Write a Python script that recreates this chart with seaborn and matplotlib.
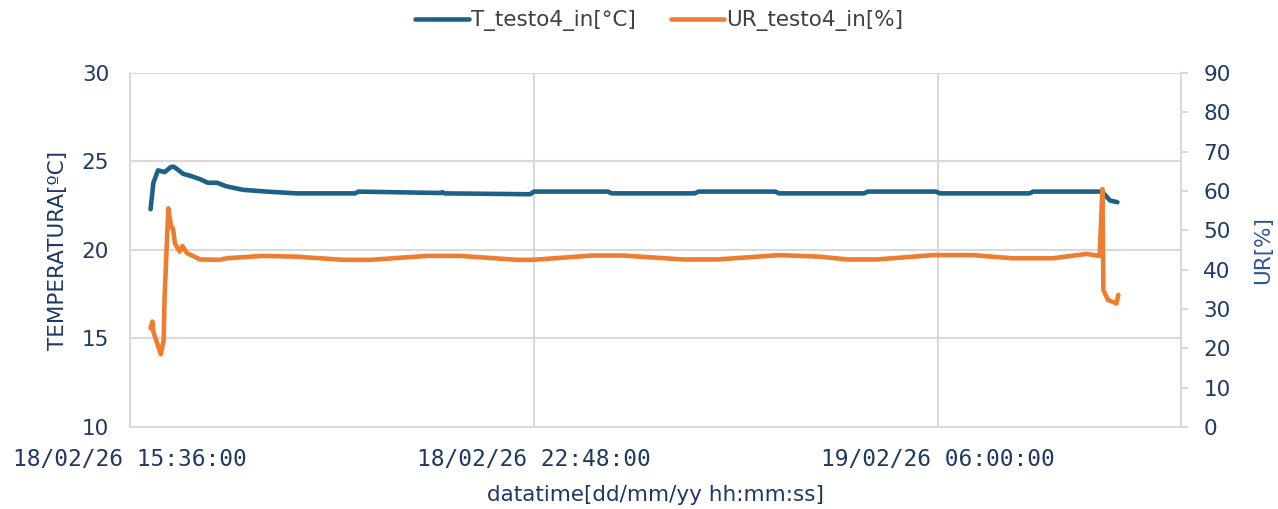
import matplotlib
matplotlib.use("Agg")
import matplotlib.pyplot as plt
import matplotlib.dates as mdates
import pandas as pd
import seaborn as sns

# Temperature series (testo sensor 4, indoor)
t_times = [
    "2026-02-18 15:58", "2026-02-18 16:01", "2026-02-18 16:06", "2026-02-18 16:13",
    "2026-02-18 16:20", "2026-02-18 16:23", "2026-02-18 16:33", "2026-02-18 16:40",
    "2026-02-18 16:51", "2026-02-18 16:59", "2026-02-18 17:09", "2026-02-18 17:19",
    "2026-02-18 17:37", "2026-02-18 18:02", "2026-02-18 18:34", "2026-02-18 18:59",
    "2026-02-18 19:37", "2026-02-18 19:40", "2026-02-18 21:08", "2026-02-18 21:10",
    "2026-02-18 21:12", "2026-02-18 22:44", "2026-02-18 22:48", "2026-02-19 00:07",
    "2026-02-19 00:11", "2026-02-19 01:40", "2026-02-19 01:44", "2026-02-19 03:06",
    "2026-02-19 03:10", "2026-02-19 04:41", "2026-02-19 04:45", "2026-02-19 05:58",
    "2026-02-19 06:02", "2026-02-19 07:38", "2026-02-19 07:42", "2026-02-19 08:55",
    "2026-02-19 08:59", "2026-02-19 09:04", "2026-02-19 09:12",
]
t_values = [
    22.3, 23.8, 24.5, 24.4,
    24.7, 24.7, 24.3, 24.2,
    24.0, 23.8, 23.8, 23.6,
    23.4, 23.3, 23.2, 23.2,
    23.2, 23.3, 23.22, 23.27,
    23.2, 23.15, 23.3, 23.3,
    23.2, 23.2, 23.3, 23.3,
    23.2, 23.2, 23.3, 23.3,
    23.2, 23.2, 23.3, 23.3,
    23.1, 22.8, 22.7,
]

# Relative humidity series (testo sensor 4, indoor)
ur_times = [
    "2026-02-18 15:58", "2026-02-18 16:00", "2026-02-18 16:01", "2026-02-18 16:09",
    "2026-02-18 16:12", "2026-02-18 16:13", "2026-02-18 16:17", "2026-02-18 16:20",
    "2026-02-18 16:22", "2026-02-18 16:24", "2026-02-18 16:29", "2026-02-18 16:32",
    "2026-02-18 16:37", "2026-02-18 16:51", "2026-02-18 17:12", "2026-02-18 17:19",
    "2026-02-18 17:58", "2026-02-18 18:34", "2026-02-18 18:59", "2026-02-18 19:24",
    "2026-02-18 19:53", "2026-02-18 20:54", "2026-02-18 21:29", "2026-02-18 22:30",
    "2026-02-18 22:47", "2026-02-18 23:51", "2026-02-19 00:23", "2026-02-19 01:27",
    "2026-02-19 02:04", "2026-02-19 03:11", "2026-02-19 03:54", "2026-02-19 04:23",
    "2026-02-19 04:55", "2026-02-19 05:55", "2026-02-19 06:37", "2026-02-19 07:20",
    "2026-02-19 08:03", "2026-02-19 08:39", "2026-02-19 08:53", "2026-02-19 08:56",
    "2026-02-19 08:57", "2026-02-19 09:02", "2026-02-19 09:11", "2026-02-19 09:13",
]
ur_values = [
    25.1, 26.8, 24.2, 18.5,
    22.1, 33.1, 55.6, 50.9,
    50.5, 46.7, 44.6, 46.0,
    44.2, 42.6, 42.5, 42.9,
    43.5, 43.3, 42.9, 42.5,
    42.5, 43.5, 43.5, 42.5,
    42.5, 43.6, 43.6, 42.6,
    42.6, 43.7, 43.3, 42.6,
    42.6, 43.7, 43.7, 42.9,
    42.9, 44.0, 43.5, 60.5,
    34.8, 32.3, 31.4, 33.6,
]

x_ticks = ["2026-02-18 15:36", "2026-02-18 22:48", "2026-02-19 06:00"]
x_limits = ["2026-02-18 15:36", "2026-02-19 10:20"]
t_ticks = [10, 15, 20, 25, 30]
ur_ticks = [0, 10, 20, 30, 40, 50, 60, 70, 80, 90]

label_t = "T_testo4_in[°C]"
label_ur = "UR_testo4_in[%]"

t_df = pd.DataFrame({"time": pd.to_datetime(t_times), "value": t_values})
ur_df = pd.DataFrame({"time": pd.to_datetime(ur_times), "value": ur_values})

sns.set_style("white")
plt.rcParams["font.family"] = ["DejaVu Sans"]

NAVY = "#1F3864"
GRID = "#D9D9D9"
C_T = "#1D6286"
C_UR = "#ED7D31"

fig = plt.figure(figsize=(12.78, 5.09), dpi=100)
ax = fig.add_axes([130 / 1278, 1 - 427 / 509, (1181 - 130) / 1278, (427 - 73) / 509])
ax2 = ax.twinx()

sns.lineplot(data=t_df, x="time", y="value", ax=ax, color=C_T, linewidth=3.3,
             label=label_t, legend=False)
sns.lineplot(data=ur_df, x="time", y="value", ax=ax2, color=C_UR, linewidth=3.3,
             label=label_ur, legend=False)

ax.set_xlim(pd.to_datetime(x_limits))
ax.set_ylim(t_ticks[0], t_ticks[-1])
ax2.set_ylim(ur_ticks[0], ur_ticks[-1])

ax.set_xticks(pd.to_datetime(x_ticks))
ax.xaxis.set_major_formatter(mdates.DateFormatter("%d/%m/%y %H:%M:%S"))
ax.set_yticks(t_ticks)
ax2.set_yticks(ur_ticks)

ax.grid(True, color=GRID, linewidth=1.5)
ax.set_axisbelow(True)
ax2.grid(False)

for a in (ax, ax2):
    a.spines["top"].set_visible(False)
ax.spines["right"].set_visible(False)
ax.spines["left"].set_color(GRID)
ax.spines["left"].set_linewidth(1.5)
ax.spines["bottom"].set_color(GRID)
ax.spines["bottom"].set_linewidth(1.5)
ax2.spines["left"].set_visible(False)
ax2.spines["bottom"].set_visible(False)
ax2.spines["right"].set_color(GRID)
ax2.spines["right"].set_linewidth(1.5)

ax.tick_params(axis="x", length=0, pad=15, labelcolor=NAVY)
ax.tick_params(axis="y", length=0, pad=15, labelsize=15.5, labelcolor=NAVY)
ax2.tick_params(axis="y", length=5, width=1.5, color=GRID, pad=11,
                labelsize=15.5, labelcolor=NAVY)
# wide, evenly spaced date labels
for lbl in ax.get_xticklabels():
    lbl.set_fontfamily("DejaVu Sans Mono")
    lbl.set_fontsize(16.5)

ax.set_xlabel("datatime[dd/mm/yy hh:mm:ss]", fontsize=15.5, color=NAVY, labelpad=10)
ax.set_ylabel("TEMPERATURA[ºC]", fontsize=15.5, color=NAVY, labelpad=10)
ax2.set_ylabel("UR[%]", fontsize=15.5, color="#2F5597", labelpad=16)

h1, l1 = ax.get_legend_handles_labels()
h2, l2 = ax2.get_legend_handles_labels()
fig.legend(h1 + h2, l1 + l2, loc="upper center", bbox_to_anchor=(0.516, 1.018),
           ncol=2, frameon=False, fontsize=15.5, labelcolor="#404040",
           handlelength=2.5, handletextpad=0.1, columnspacing=1.6)

fig.savefig("out.png", dpi=100)
